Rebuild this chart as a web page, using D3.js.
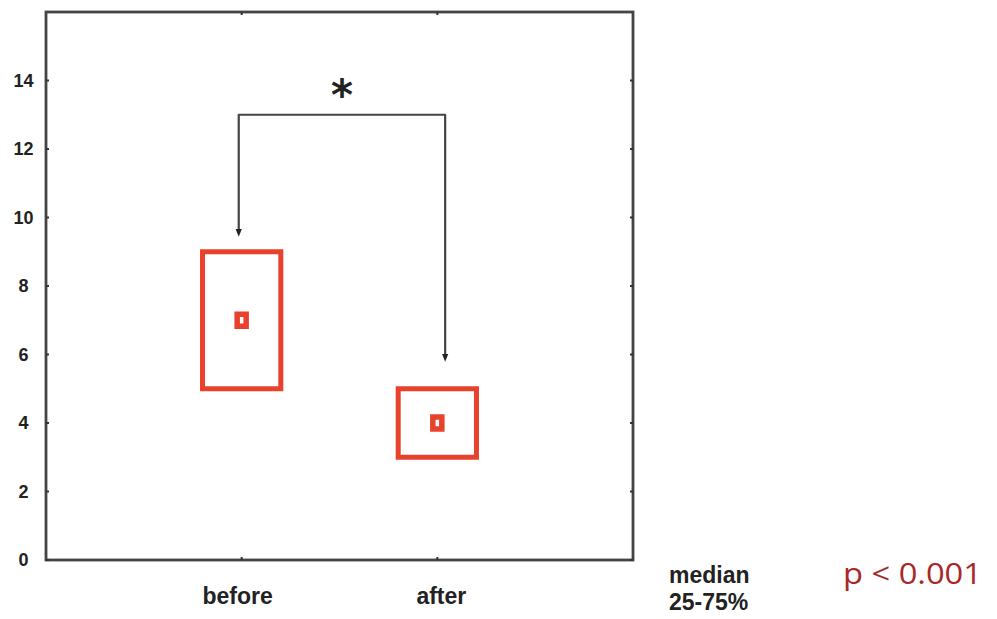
<!DOCTYPE html>
<html>
<head>
<meta charset="utf-8">
<script src="https://cdn.jsdelivr.net/npm/d3@7.9.0/dist/d3.min.js"></script>
<style>
  body { margin: 0; background: #fff; }
  svg { display: block; }
</style>
</head>
<body>
<div id="chart"></div>
<script>
// data
const categories = ['before', 'after'];
const medians = [7, 4];
const q1 = [5, 3];
const q3 = [9, 5];
const yTicks = [0, 2, 4, 6, 8, 10, 12, 14];
// significance bracket: top level, left end, right end
const bracket = { top: 13, leftEnd: 9.55, rightEnd: 5.9, label: '*' };
const legendLines = ['median', '25-75%'];
const pLabel = 'p < 0.001';

const width = 997;
const height = 619;
const red = '#e8412c';
const font = 'Liberation Sans, Arial, sans-serif';

const svg = d3.select('#chart')
  .append('svg')
  .attr('width', width)
  .attr('height', height);

const plot = { left: 46, right: 633, top: 12, bottom: 560 };

// categories sit at 1 and 2 on a 0..3 axis
const xScale = d3.scaleLinear().domain([0, 3]).range([plot.left, plot.right]);
const yScale = d3.scaleLinear().domain([0, 16]).range([plot.bottom, plot.top]);
const xPos = (i) => xScale(i + 1);

// frame
svg.append('rect')
  .attr('x', plot.left)
  .attr('y', plot.top)
  .attr('width', plot.right - plot.left)
  .attr('height', plot.bottom - plot.top)
  .attr('fill', 'none')
  .attr('stroke', '#444')
  .attr('stroke-width', 2.8);

// tick marks (tiny, inward, on every side)
const tickG = svg.append('g').attr('stroke', '#333').attr('stroke-width', 2);
yTicks.forEach((t) => {
  const y = yScale(t);
  tickG.append('line').attr('x1', plot.left).attr('x2', plot.left + 3).attr('y1', y).attr('y2', y);
  tickG.append('line').attr('x1', plot.right - 3).attr('x2', plot.right).attr('y1', y).attr('y2', y);
});
categories.forEach((c, i) => {
  const x = xPos(i);
  tickG.append('line').attr('x1', x).attr('x2', x).attr('y1', plot.bottom - 3).attr('y2', plot.bottom);
  tickG.append('line').attr('x1', x).attr('x2', x).attr('y1', plot.top).attr('y2', plot.top + 3);
});

// y labels
svg.append('g')
  .selectAll('text')
  .data(yTicks)
  .join('text')
  .attr('x', 23.5)
  .attr('y', (d) => yScale(d))
  .attr('dy', '0.36em')
  .attr('text-anchor', 'middle')
  .attr('font-family', font)
  .attr('font-weight', 'bold')
  .attr('font-size', 18)
  .attr('fill', '#222')
  .text((d) => d);

// x labels
svg.append('g')
  .selectAll('text')
  .data(categories)
  .join('text')
  .attr('x', (d, i) => xPos(i) + (i === 0 ? -4 : 4))
  .attr('y', 604)
  .attr('text-anchor', 'middle')
  .attr('font-family', font)
  .attr('font-weight', 'bold')
  .attr('font-size', 23)
  .attr('fill', '#222')
  .text((d) => d);

// boxes (25-75%)
const halfW = 0.2;
svg.append('g')
  .selectAll('rect')
  .data(categories)
  .join('rect')
  .attr('x', (d, i) => xScale(i + 1 - halfW))
  .attr('y', (d, i) => yScale(q3[i]))
  .attr('width', xScale(halfW * 2) - xScale(0))
  .attr('height', (d, i) => yScale(q1[i]) - yScale(q3[i]))
  .attr('fill', 'none')
  .attr('stroke', red)
  .attr('stroke-width', 5);

// median markers
svg.append('g')
  .selectAll('rect')
  .data(categories)
  .join('rect')
  .attr('x', (d, i) => xPos(i) - 4.5)
  .attr('y', (d, i) => yScale(medians[i]) - 6)
  .attr('width', 9)
  .attr('height', 12)
  .attr('fill', '#fff')
  .attr('stroke', red)
  .attr('stroke-width', 5.5);

// significance bracket
svg.append('defs').append('marker')
  .attr('id', 'head')
  .attr('viewBox', '0 0 10 10')
  .attr('refX', 5)
  .attr('refY', 5)
  .attr('markerWidth', 3.5)
  .attr('markerHeight', 3.5)
  .attr('orient', 'auto-start-reverse')
  .append('path')
  .attr('d', 'M0,1 L10,5 L0,9 Z')
  .attr('fill', '#222');

const bx0 = xScale(0.985);
const bx1 = xScale(2.04);
svg.append('path')
  .attr('d', d3.line()([
    [bx0, yScale(bracket.leftEnd)],
    [bx0, yScale(bracket.top)],
    [bx1, yScale(bracket.top)],
    [bx1, yScale(bracket.rightEnd)]
  ]))
  .attr('fill', 'none')
  .attr('stroke', '#444')
  .attr('stroke-width', 2.2)
  .attr('stroke-linejoin', 'round')
  .attr('marker-start', 'url(#head)')
  .attr('marker-end', 'url(#head)');

svg.append('text')
  .attr('x', (bx0 + bx1) / 2)
  .attr('y', 110)
  .attr('text-anchor', 'middle')
  .attr('font-family', 'DejaVu Sans, sans-serif')
  .attr('font-weight', 'bold')
  .attr('font-size', 42)
  .attr('fill', '#222')
  .text(bracket.label);

// legend text
svg.append('g')
  .selectAll('text')
  .data(legendLines)
  .join('text')
  .attr('x', 669)
  .attr('y', (d, i) => 583 + i * 27)
  .attr('font-family', font)
  .attr('font-weight', 'bold')
  .attr('font-size', 23)
  .attr('fill', '#222')
  .text((d) => d);

svg.append('text')
  .attr('x', 843)
  .attr('y', 584)
  .attr('font-family', 'Open Sans, Lato, sans-serif')
  .attr('font-size', 30)
  .attr('textLength', 139)
  .attr('lengthAdjust', 'spacingAndGlyphs')
  .attr('fill', '#a8282a')
  .text(pLabel);
</script>
</body>
</html>
